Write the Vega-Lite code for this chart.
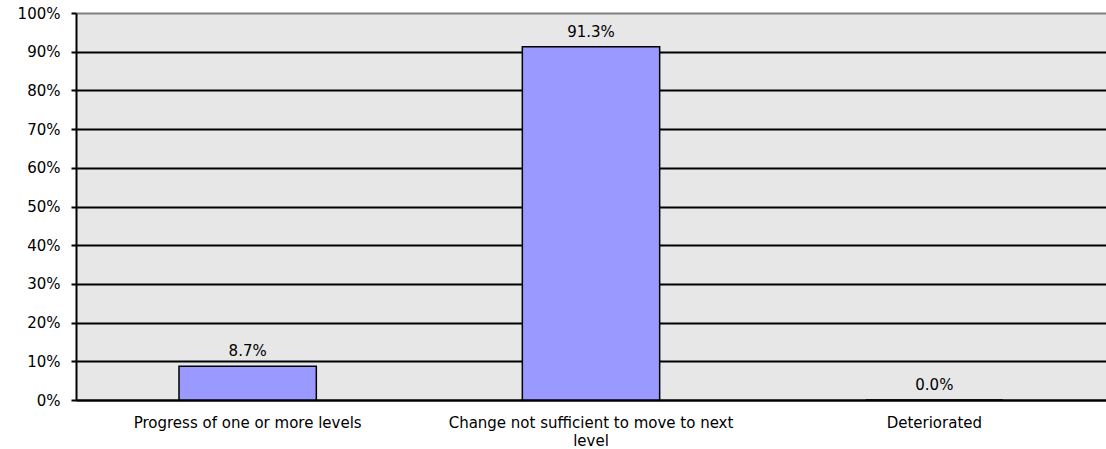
{
  "$schema": "https://vega.github.io/schema/vega-lite/v6.json",
  "width": 1030,
  "height": 387,
  "autosize": {"type": "none"},
  "padding": {"left": 76, "top": 13, "right": 0, "bottom": 49},
  "background": "white",
  "config": {
    "view": {"fill": "#e7e7e7", "stroke": null},
    "font": "DejaVu Sans"
  },
  "data": {
    "values": [
      {"category": "Progress of one or more levels", "value": 0.087},
      {"category": "Change not sufficient to move to next level", "value": 0.913},
      {"category": "Deteriorated", "value": 0.0}
    ]
  },
  "encoding": {
    "x": {
      "field": "category",
      "type": "nominal",
      "sort": null,
      "scale": {"paddingInner": 0.6, "paddingOuter": 0.3},
      "axis": {
        "title": null,
        "labelAngle": 0,
        "labelFontSize": 15,
        "labelColor": "black",
        "labelPadding": 15,
        "labelLimit": 400,
        "labelLineHeight": 18,
        "labelExpr": "datum.value == 'Change not sufficient to move to next level' ? ['Change not sufficient to move to next', 'level'] : datum.value",
        "ticks": false,
        "domainColor": "black",
        "domainWidth": 2,
        "grid": false
      }
    },
    "y": {
      "field": "value",
      "type": "quantitative",
      "scale": {"domain": [0, 1], "nice": false},
      "axis": {
        "title": null,
        "format": ".0%",
        "values": [0, 0.1, 0.2, 0.3, 0.4, 0.5, 0.6, 0.7, 0.8, 0.9, 1],
        "labelFontSize": 15,
        "labelColor": "black",
        "labelPadding": 11,
        "tickColor": "black",
        "tickSize": 5,
        "tickWidth": 2,
        "domainColor": "black",
        "domainWidth": 2,
        "grid": true,
        "gridColor": {"condition": {"test": "datum.value == 1", "value": "#808080"}, "value": "black"},
        "gridWidth": 2,
        "gridOpacity": 1
      }
    }
  },
  "layer": [
    {
      "mark": {"type": "bar", "color": "#9999FF", "stroke": "black", "strokeWidth": 1.5}
    },
    {
      "mark": {"type": "text", "baseline": "bottom", "dy": -7, "fontSize": 15, "color": "black"},
      "encoding": {
        "text": {"field": "value", "type": "quantitative", "format": ".1%"}
      }
    }
  ]
}
